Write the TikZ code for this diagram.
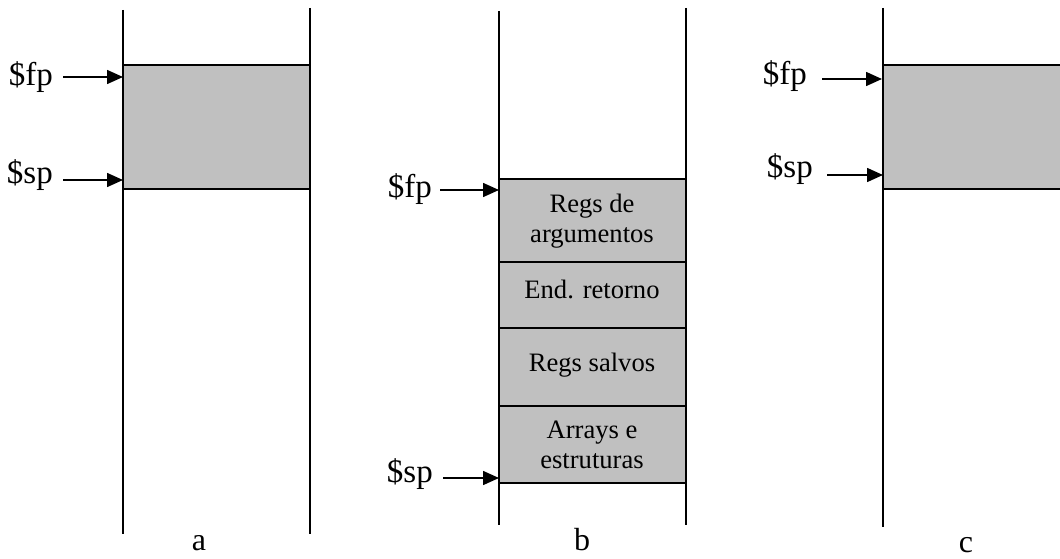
\documentclass[tikz,border=0pt]{standalone}
\usepackage{fontspec}
\setmainfont{Liberation Serif}
\usetikzlibrary{arrows.meta}
\definecolor{cellgray}{RGB}{192,192,192}
\tikzset{
  wall/.style={line width=1.8pt},
  cell/.style={draw, line width=1.8pt, fill=cellgray},
  reglabel/.style={inner sep=0pt, anchor=base east, font=\fontsize{33}{36}\selectfont},
  celltext/.style={inner sep=0pt, anchor=base, font=\fontsize{26.6}{30}\selectfont},
  caption/.style={inner sep=0pt, anchor=base, font=\fontsize{32}{36}\selectfont},
  ptr/.style={line width=1.6pt, -{Triangle[length=16pt,width=14pt]}}
}
\begin{document}
\begin{tikzpicture}[x=1pt,y=-1pt]
\useasboundingbox (0,0) rectangle (1060,559);
\begin{scope}
\clip (0,0) rectangle (1060,559);
% ---------- panel a ----------
\draw[cell] (123,65) rectangle (310,189);
\draw[wall] (123,10) -- (123,534);
\draw[wall] (310,8) -- (310,534);
\node[reglabel] (afp) at (53,86) {\$fp};
\node[reglabel] (asp) at (53,183) {\$sp};
\coordinate (afpS) at (63,77);  \coordinate (afpT) at (123,77);
\coordinate (aspS) at (63,180); \coordinate (aspT) at (123,180);
\draw[ptr] (afpS) -- (afpT);
\draw[ptr] (aspS) -- (aspT);
\node[caption] (capa) at (199,550) {a};
% ---------- panel b ----------
\draw[cell] (499,179) rectangle (686,262);
\draw[cell] (499,262) rectangle (686,328);
\draw[cell] (499,328) rectangle (686,406);
\draw[cell] (499,406) rectangle (686,483);
\draw[wall] (499,11) -- (499,525);
\draw[wall] (686,8) -- (686,525);
\node[celltext] (b1a) at (592,212) {Regs de};
\node[celltext] (b1b) at (592,242) {argumentos};
\node[celltext] (b2) at (592,298) {End. retorno};
\node[celltext] (b3) at (592,371) {Regs salvos};
\node[celltext] (b4a) at (592,438) {Arrays e};
\node[celltext] (b4b) at (592,468) {estruturas};
\node[reglabel] (bfp) at (432,197) {\$fp};
\node[reglabel] (bsp) at (433,482) {\$sp};
\coordinate (bfpS) at (440,190); \coordinate (bfpT) at (499,190);
\coordinate (bspS) at (443,478); \coordinate (bspT) at (499,478);
\draw[ptr] (bfpS) -- (bfpT);
\draw[ptr] (bspS) -- (bspT);
\node[caption] (capb) at (582,550) {b};
% ---------- panel c ----------
\draw[cell] (883,65) rectangle (1070,189);
\draw[wall] (883,8) -- (883,527);
\node[reglabel] (cfp) at (807,85) {\$fp};
\node[reglabel] (csp) at (813,178) {\$sp};
\coordinate (cfpS) at (822,79);  \coordinate (cfpT) at (882,79);
\coordinate (cspS) at (827,175); \coordinate (cspT) at (883,175);
\draw[ptr] (cfpS) -- (cfpT);
\draw[ptr] (cspS) -- (cspT);
\node[caption] (capc) at (966,552) {c};
\end{scope}
\end{tikzpicture}
\end{document}
